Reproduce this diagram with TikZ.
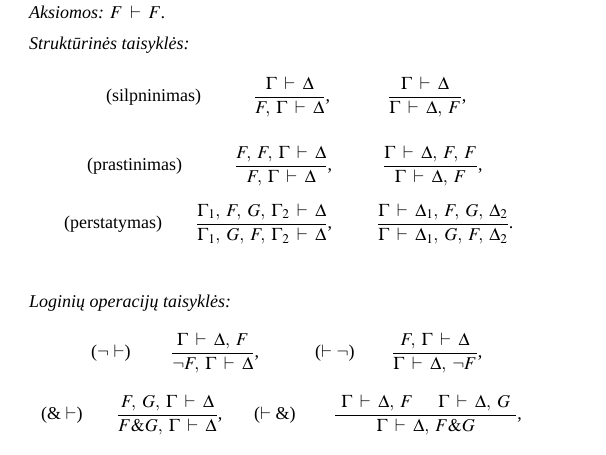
\documentclass[tikz,border=0pt]{standalone}
\usepackage{amsmath}
\usepackage{mathptmx}
\usepackage[no-math]{fontspec}
\setmainfont{Liberation Serif}
\thinmuskip=6mu
\thickmuskip=7.5mu

\begin{document}
\begin{tikzpicture}[x=1pt,y=-1pt,
	head/.style={anchor=base west,inner sep=0pt,font=\fontsize{18}{22}\selectfont\itshape},
	lab/.style={anchor=west,inner sep=0pt,font=\fontsize{18}{22}\selectfont},
	frac/.style={anchor=west,inner sep=0pt,font=\fontsize{18}{22}\selectfont}]
\useasboundingbox (0,0) rectangle (606,455);
\node[head] (ax) at (29,18) {Aksiomos: $F\vdash F$.};
\node[head] (st) at (29,49) {Struktūrinės taisyklės:};
\node[head] (lo) at (29,307) {Loginių operacijų taisyklės:};
\foreach \n/\x/\y/\t in {s/106/97/silpninimas,p/87/166/prastinimas,r/64/224/perstatymas}
{
	\node[lab] (\n0) at (\x,\y) {(\t)};
}
\node[frac] (s1) at (254,97) {$\dfrac{\Gamma\vdash\Delta}{F,\Gamma\vdash\Delta}$,};
\node[frac] (s2) at (388,97) {$\dfrac{\Gamma\vdash\Delta}{\Gamma\vdash\Delta,F}$,};
\node[frac] (p1) at (235,166) {$\dfrac{F,F,\Gamma\vdash\Delta}{F,\Gamma\vdash\Delta}$,};
\node[frac] (p2) at (383,166) {$\dfrac{\Gamma\vdash\Delta,F,F}{\Gamma\vdash\Delta,F}$,};
\node[frac] (r1) at (196,224) {$\dfrac{\Gamma_1,F,G,\Gamma_2\vdash\Delta}{\Gamma_1,G,F,\Gamma_2\vdash\Delta}$,};
\node[frac] (r2) at (377,224) {$\dfrac{\Gamma\vdash\Delta_1,F,G,\Delta_2}{\Gamma\vdash\Delta_1,G,F,\Delta_2}$.};
% neigimas
\node[lab] (n0) at (91,353) {($\neg$ $\vdash$)};
\node[frac] (n1) at (171,353) {$\dfrac{\Gamma\vdash\Delta,F}{\neg F,\Gamma\vdash\Delta}$,};
\node[lab] (n2) at (315,353) {($\vdash$ $\neg$)};
\node[frac] (n3) at (392,353) {$\dfrac{F,\Gamma\vdash\Delta}{\Gamma\vdash\Delta,\neg F}$,};
% konjunkcija
\node[lab] (k0) at (41,415) {(\& $\vdash$)};
\node[frac] (k1) at (117,415) {$\dfrac{F,G,\Gamma\vdash\Delta}{F\&G,\Gamma\vdash\Delta}$,};
\node[lab] (k2) at (254,415) {($\vdash$ \&)};
\node[frac] (k3) at (334,415) {$\dfrac{\,\Gamma\vdash\Delta,F\quad\;\Gamma\vdash\Delta,G\,}{\Gamma\vdash\Delta,F\&G}$,};
\end{tikzpicture}
\end{document}
